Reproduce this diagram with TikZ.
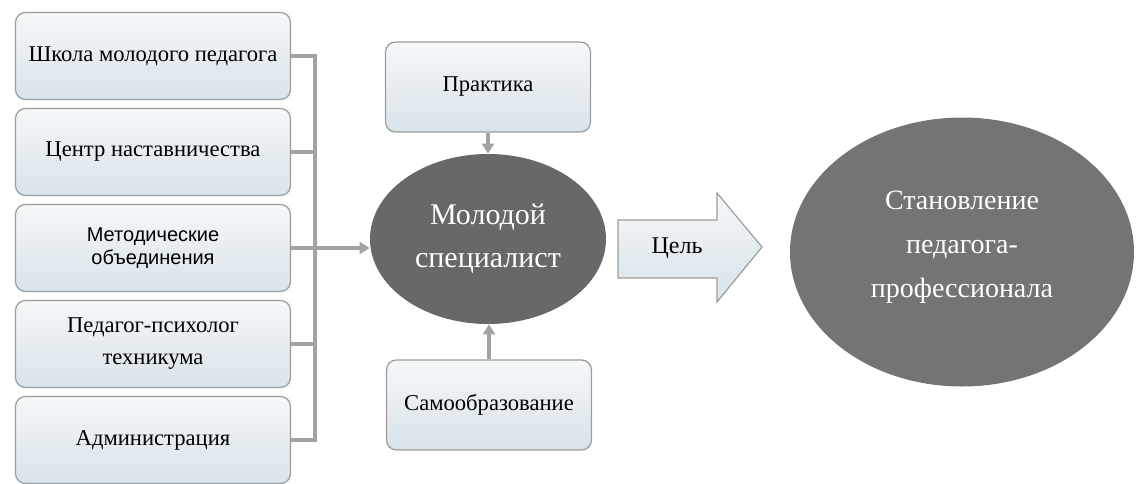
\documentclass[tikz,border=0pt]{standalone}
\usepackage{fontspec}
\setmainfont{Liberation Serif}
\newfontfamily\arialfont{Liberation Sans}
\usetikzlibrary{arrows.meta,shapes.geometric}

\begin{document}
\begin{tikzpicture}[x=0.5pt,y=-0.5pt,
  box/.style={draw=boxGray, line width=0.6pt, rounded corners=5pt,
    top color=boxTop, bottom color=boxBot, align=center,
    minimum width=137.5pt, minimum height=43.5pt, inner sep=2pt,
    font=\fontsize{11.3}{16}\selectfont},
  smallbox/.style={box, minimum width=102.5pt, minimum height=45pt},
  blob/.style={ellipse, draw=none, fill=#1, text=white, align=center, inner sep=0pt},
  bus/.style={draw=lineGray, line width=1.6pt},
  link/.style={bus, -{Triangle[length=5pt,width=6pt]}}]

% Colori
\definecolor{boxTop}{HTML}{F5F7F8}
\definecolor{boxBot}{HTML}{D8E3EA}
\definecolor{boxGray}{HTML}{9C9C9C}
\definecolor{lineGray}{HTML}{A2A2A2}
\definecolor{darkBlob}{HTML}{686868}
\definecolor{goalBlob}{HTML}{747474}

% Cornice
\useasboundingbox (0,0) rectangle (1136,483);

% Riquadri a sinistra
\node[box] (school) at (153,56) {Школа молодого педагога};
\node[box] (centre) at (153,152) {Центр наставничества};
\node[box, font=\arialfont\fontsize{10}{11.5}\selectfont] (method) at (153,248) {Методические\\объединения};
\node[box] (psych) at (153,344) {Педагог-психолог\\техникума};
\node[box] (admin) at (153,440) {Администрация};

% Ellisse centrale
\node[blob=darkBlob, minimum width=118pt, minimum height=85pt,
  font=\fontsize{15}{21.5}\selectfont] (young) at (488,239) {Молодой\\специалист};

% Riquadri sopra e sotto
\node[smallbox] (practice) at (488,87) {Практика};
\node[smallbox] (selfedu) at (489,405) {Самообразование};

% Collegamenti
\coordinate (busx) at (315,0);
\draw[bus] (school.east) -- (school.east -| busx) -- (admin.east -| busx) -- (admin.east);
\draw[bus] (centre.east) -- (centre.east -| busx);
\draw[bus] (psych.east) -- (psych.east -| busx);
\draw[link] (method.east) -- (young.west |- method.east);
\draw[link] (practice.south) -- (practice.south |- young.north);
\draw[link] (selfedu.north) -- (selfedu.north |- young.south);

% Freccia "Цель"
\draw[draw=boxGray, line width=0.6pt, top color=boxTop, bottom color=boxBot]
  (618,220) -- (717,220) -- (717,193) -- (762,247) -- (717,302) -- (717,278) -- (618,278) -- cycle;
\node[font=\fontsize{12}{14}\selectfont] (goal) at (677,248) {Цель};

% Ellisse a destra
\node[blob=goalBlob, minimum width=172pt, minimum height=134.5pt, text depth=8pt,
  font=\fontsize{14}{22}\selectfont] (pro) at (962,252) {Становление\\педагога-\\профессионала};

\end{tikzpicture}
\end{document}
